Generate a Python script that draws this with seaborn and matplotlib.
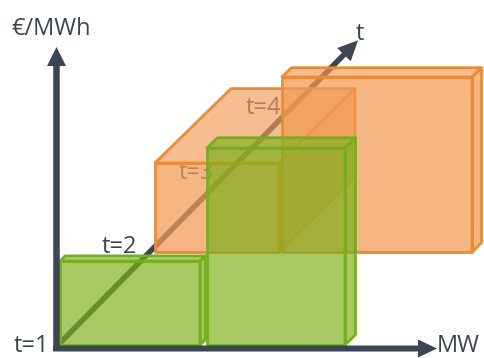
import numpy as np
import matplotlib
matplotlib.use("Agg")
import matplotlib.pyplot as plt
import seaborn as sns
from matplotlib.patches import Polygon, FancyArrow

sns.set_style("white")
plt.rcParams['font.family'] = ['Open Sans', 'DejaVu Sans']

# ---- data ----
block_t = [1, 1, 2, 2]                 # time slice of each block
block_mw_start = [0, 147, 0, 127]      # MW start (within its time plane)
block_mw_width = [140, 138, 124, 190]  # MW width
block_price = [84, 197, 89, 175]       # EUR/MWh height
block_depth = [0.055, 0.11, 0.8, 0.1]  # extent along t
block_group = ["green", "green", "orange", "orange"]
t_labels = ["t=1", "t=2", "t=3", "t=4"]
axis_labels = ["€/MWh", "MW", "t"]

# ---- styling / projection ----
ORIGIN = np.array([60.0, 345.0])
T_STEP = np.array([95.0, -93.0])
AX_COL = "#3B4653"
FS = 17
COLORS = {
    "orange": dict(face="#F29A55", edge="#EE8A30", alpha=0.72),
    "green": dict(face="#7DB01A", edge="#74B01E", alpha=0.68),
}


def proj(mw, price, t):
    p = ORIGIN + np.array([mw, -price]) + T_STEP * (t - 1)
    return p


fig = plt.figure(figsize=(4.84, 3.58), dpi=100)
ax = fig.add_axes([0, 0, 1, 1])
ax.set_xlim(0, 484)
ax.set_ylim(358, 0)
ax.set_axis_off()

# t axis (drawn under the blocks)
t_start = proj(0, 2, 1)
t_end = proj(0, 0, 4.2) + np.array([-6, -7])
ax.add_patch(FancyArrow(t_start[0], t_start[1], t_end[0] - t_start[0], t_end[1] - t_start[1],
                        width=5.5, head_width=19, head_length=20, length_includes_head=True,
                        color=AX_COL, zorder=1, lw=0))

# t=3, t=4 labels sit under the orange blocks
ax.text(179, 179, t_labels[2], fontsize=FS, color=AX_COL, zorder=1.5, ha="left", va="baseline")
ax.text(246, 114, t_labels[3], fontsize=FS, color=AX_COL, zorder=1.5, ha="left", va="baseline")

order = [2, 3, 0, 1]
for z, i in enumerate(order):
    c = COLORS[block_group[i]]
    t0 = block_t[i]
    x0, x1 = block_mw_start[i], block_mw_start[i] + block_mw_width[i]
    h = block_price[i]
    d = block_depth[i]
    A = proj(x0, 0, t0); B = proj(x1, 0, t0); C = proj(x1, h, t0); D = proj(x0, h, t0)
    off = T_STEP * d
    front = [A, B, C, D]
    top = [D, C, C + off, D + off]
    side = [B, B + off, C + off, C]
    zb = 2 + z
    for poly, fc_alpha, fcol in ((front, c["alpha"], c["face"]),
                                 (top, c["alpha"] * 0.9, c["face"]),
                                 (side, c["alpha"], c["face"])):
        ax.add_patch(Polygon(poly, closed=True, facecolor=fcol, alpha=fc_alpha,
                             edgecolor="none", zorder=zb))
        ax.add_patch(Polygon(poly, closed=True, facecolor="none", edgecolor=c["edge"],
                             lw=2.0, joinstyle="round", zorder=zb + 0.1))

# price and MW axes
ax.add_patch(FancyArrow(56.5, 350, 0, -303, width=6.5, head_width=19, head_length=19,
                        length_includes_head=True, color=AX_COL, zorder=10, lw=0))
ax.add_patch(FancyArrow(53, 348.5, 384, 0, width=6.0, head_width=18, head_length=19,
                        length_includes_head=True, color=AX_COL, zorder=10, lw=0))

ax.text(11, 35, axis_labels[0], fontsize=FS, color=AX_COL, ha="left", va="baseline")
ax.text(437, 352, axis_labels[1], fontsize=FS, color=AX_COL, ha="left", va="baseline")
ax.text(356, 40, axis_labels[2], fontsize=FS, color=AX_COL, ha="left", va="baseline")
ax.text(14, 352, t_labels[0], fontsize=FS, color=AX_COL, ha="left", va="baseline")
ax.text(102, 253, t_labels[1], fontsize=FS, color=AX_COL, ha="left", va="baseline")

fig.savefig("out.png", dpi=100)
